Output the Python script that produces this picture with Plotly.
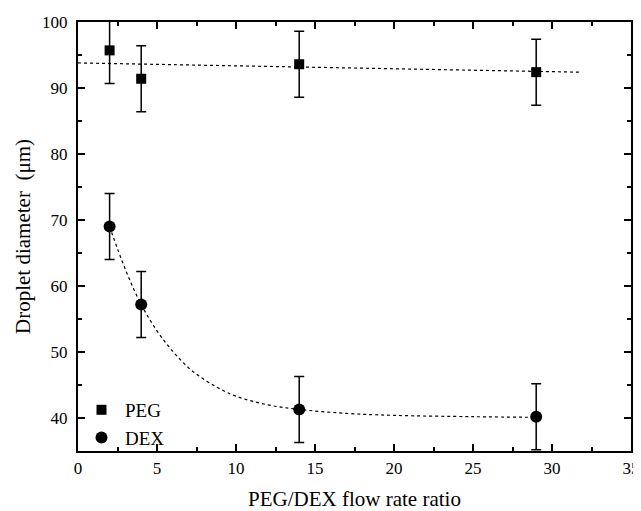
import plotly.graph_objects as go

ratio = [2, 4, 14, 29]
peg = [95.7, 91.4, 93.6, 92.4]
peg_err = [5, 5, 5, 5]
dex = [69.0, 57.2, 41.3, 40.2]
dex_err = [5, 5, 5, 5]

peg_fit_x = [0, 31.7]
peg_fit_y = [93.8, 92.4]
dex_fit_x = [2, 3, 4, 5, 6, 7, 8, 9, 10, 12, 14, 17, 20, 25, 29]
dex_fit_y = [69.0, 62.5, 57.2, 53.2, 50.1, 47.6, 45.8, 44.4, 43.3, 42.0, 41.3, 40.7, 40.4, 40.2, 40.1]

font = "Liberation Serif, Times New Roman, serif"

fig = go.Figure()
fig.add_trace(go.Scatter(x=peg_fit_x, y=peg_fit_y, mode="lines",
                         line=dict(color="black", width=1.2, dash="dot"), showlegend=False))
fig.add_trace(go.Scatter(x=dex_fit_x, y=dex_fit_y, mode="lines", line_shape="spline",
                         line=dict(color="black", width=1.2, dash="dot"), showlegend=False))
fig.add_trace(go.Scatter(x=ratio, y=peg, mode="markers", name="PEG",
                         marker=dict(symbol="square", size=10, color="black"),
                         error_y=dict(type="data", array=peg_err, color="black", thickness=1.5, width=5)))
fig.add_trace(go.Scatter(x=ratio, y=dex, mode="markers", name="DEX",
                         marker=dict(symbol="circle", size=12, color="black"),
                         error_y=dict(type="data", array=dex_err, color="black", thickness=1.5, width=5)))

axis_common = dict(showline=True, linecolor="black", linewidth=2, mirror="ticks",
                   ticks="inside", ticklen=7, tickwidth=2, tickcolor="black",
                   showgrid=False, zeroline=False, automargin=False,
                   tickfont=dict(family=font, size=17, color="black"))
fig.update_xaxes(range=[0, 35], dtick=5, tick0=0, ticklabelstandoff=1,
                 minor=dict(dtick=2.5, ticks="inside", ticklen=4, tickwidth=1.5, tickcolor="black"),
                 title=dict(text="PEG/DEX flow rate ratio", font=dict(family=font, size=21, color="black"), standoff=44),
                 **axis_common)
fig.update_yaxes(range=[35, 100], dtick=10, tick0=0, ticklabelstandoff=5,
                 minor=dict(dtick=5, ticks="inside", ticklen=4, tickwidth=1.5, tickcolor="black"),
                 title=dict(text="Droplet diameter  (μm)", font=dict(family=font, size=21, color="black"), standoff=6),
                 **axis_common)

fig.update_layout(width=633, height=503, margin=dict(l=70, r=10, t=14, b=60),
                  plot_bgcolor="white", paper_bgcolor="white",
                  legend=dict(x=0.0, y=0.14, xanchor="left", yanchor="top",
                              font=dict(family=font, size=19, color="black"),
                              bgcolor="rgba(0,0,0,0)", tracegroupgap=0, itemwidth=37))
fig.write_html("out.html")
